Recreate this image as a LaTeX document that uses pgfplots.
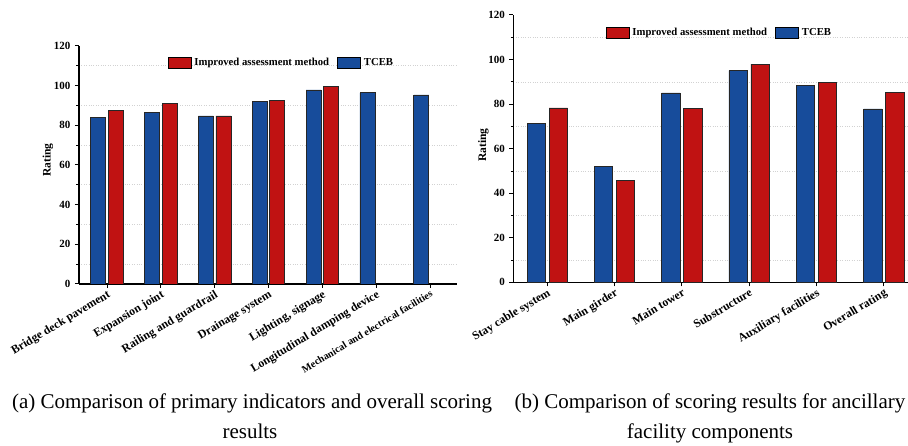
\documentclass[border=0pt]{standalone}
\usepackage{fontspec}
\setmainfont{Liberation Serif}
\usepackage{pgfplots}
\pgfplotsset{compat=1.18}
\definecolor{cblue}{HTML}{174C9B}
\definecolor{cred}{HTML}{C01212}
\pgfplotsset{
  mybars/.style={
    ybar, scale only axis,
    ymin=0, ymax=120, ytick distance=20, minor y tick num=1,
    axis x line*=bottom, axis y line*=left,
    axis line style={line width=1.3pt, black},
    x axis line style={-}, y axis line style={-},
    tick style={line width=1pt, black},
    major tick length=4pt, minor tick length=2.5pt,
    tick align=outside,
    minor y tick style={line width=0.8pt},
    grid=minor,
    minor grid style={dotted, gray!35, line width=0.6pt},
    /pgf/number format/assume math mode=true,
    yticklabel style={font=\bfseries\fontsize{11}{12}\selectfont, xshift=-1pt},
    xticklabel style={font=\bfseries\fontsize{11.8}{12}\selectfont, rotate=31, anchor=north east, inner sep=1pt},
    ylabel={Rating},
    ylabel style={font=\bfseries\fontsize{11.5}{13}\selectfont},
    legend columns=-1,
    legend cell align=left,
    legend style={draw=none, fill=none, inner sep=0pt, font=\bfseries\fontsize{10.7}{12}\selectfont,
      nodes={inner sep=3pt},
      /tikz/every even column/.append style={column sep=5pt}},
    legend image code/.code={\draw[#1, draw=black, line width=0.8pt] (0pt,-5.5pt) rectangle (23pt,5.5pt);},
  }
}
\begin{document}
\begin{tikzpicture}
\useasboundingbox (0,0) rectangle (908pt,446pt);
\begin{axis}[mybars,
  at={(79pt,162pt)}, anchor=south west,
  width=378pt, height=238.3pt,
  xmin=-0.52, xmax=6.5,
  bar width=15pt,
  xtick={0,1,2,3,4,5,6},
  ylabel style={at={(axis description cs:0,0.52)}, anchor=center, yshift=31pt},
  xticklabels={Bridge deck pavement, Expansion joint, Railing and guardrail, Drainage system, {Lighting, signage}, Longitudinal damping device, {\fontsize{10.2}{10}\selectfont Mechanical and electrical facilities}},
  legend style={at={(axis description cs:0.234,0.9295)}, anchor=west},
]
\addplot[fill=cred, draw=black!85, line width=0.7pt, bar shift=8.75pt] coordinates {(0,87.4) (1,91.1) (2,84.6) (3,92.6) (4,99.7)};
\addlegendentry{Improved assessment method}
\addplot[fill=cblue, draw=black!85, line width=0.7pt, bar shift=-8.75pt] coordinates {(0,83.9) (1,86.6) (2,84.6) (3,92.1) (4,97.7) (5,96.3) (6,95.2)};
\addlegendentry{TCEB}
\end{axis}
\begin{axis}[mybars,
  at={(513.3pt,163.7pt)}, anchor=south west,
  width=394.7pt, height=267.3pt,
  xmin=-0.505, xmax=5.36,
  bar width=18.5pt,
  xtick={0,1,2,3,4,5},
  ylabel style={at={(axis description cs:0,0.514)}, anchor=center, yshift=30pt},
  xticklabels={Stay cable system, Main girder, Main tower, Substructure, Auxiliary facilities, Overall rating},
  legend style={at={(axis description cs:0.2334,0.9345)}, anchor=west},
]
\addplot[fill=cred, draw=black!85, line width=0.7pt, bar shift=11pt] coordinates {(0,78.3) (1,45.9) (2,78.0) (3,97.9) (4,89.6) (5,85.1)};
\addlegendentry{Improved assessment method}
\addplot[fill=cblue, draw=black!85, line width=0.7pt, bar shift=-11pt] coordinates {(0,71.2) (1,51.9) (2,85.0) (3,95.0) (4,88.4) (5,77.8)};
\addlegendentry{TCEB}
\end{axis}
\node[anchor=base, font=\fontsize{21}{24}\selectfont, inner sep=0pt] at (252pt,37pt) {(a) Comparison of primary indicators and overall scoring};
\node[anchor=base, font=\fontsize{21}{24}\selectfont, inner sep=0pt] at (250pt,7pt) {results};
\node[anchor=base, font=\fontsize{21}{24}\selectfont, inner sep=0pt] at (710pt,37pt) {(b) Comparison of scoring results for ancillary};
\node[anchor=base, font=\fontsize{21}{24}\selectfont, inner sep=0pt] at (710pt,7pt) {facility components};
\end{tikzpicture}
\end{document}
